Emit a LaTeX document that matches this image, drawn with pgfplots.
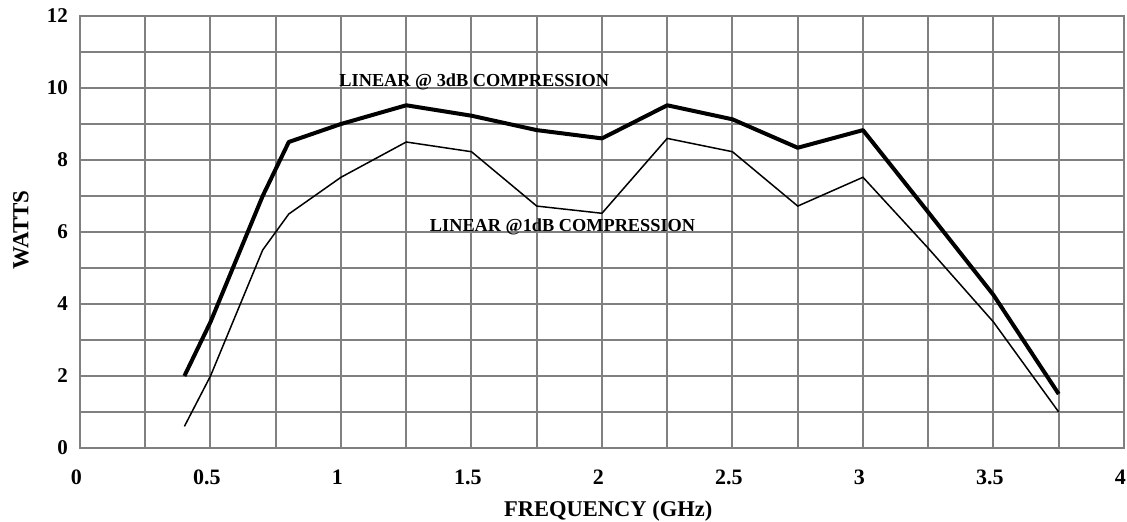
\documentclass[border=0pt]{standalone}
\usepackage{fontspec}
\setmainfont{Liberation Serif}
\usepackage{pgfplots}
\pgfplotsset{compat=1.18}
\begin{document}
\begin{tikzpicture}
\begin{axis}[
  scale only axis, width=1044pt, height=432pt,
  xmin=0, xmax=4, ymin=0, ymax=12,
  xtick={0,0.5,...,4}, minor xtick={0.25,0.75,...,3.75},
  ytick={0,2,...,12}, minor ytick={1,3,...,11},
  grid=both,
  major grid style={draw=gray, line width=2pt},
  minor grid style={draw=gray, line width=2pt},
  axis line style={draw=gray, line width=2pt},
  major tick length=0pt, minor tick length=0pt,
  /pgf/number format/assume math mode=true,
  xticklabel style={font=\bfseries\fontsize{22}{26}\selectfont, anchor=center, inner sep=0pt, yshift=-29pt, xshift=-3.5pt},
  yticklabel style={font=\bfseries\fontsize{21}{25}\selectfont, anchor=east, inner sep=0pt, xshift=-12pt},
  xlabel={FREQUENCY (GHz)},
  xlabel style={font=\bfseries\fontsize{22.5}{27}\selectfont, at={(axis description cs:0.506,-0.146)}, anchor=center, inner sep=0pt},
  ylabel={WATTS},
  ylabel style={font=\bfseries\fontsize{23}{27}\selectfont, at={(axis description cs:-0.0565,0.505)}, anchor=center, inner sep=0pt, rotate=0},
]
\addplot[black, line width=4pt, line join=round] coordinates {
(0.4,2.0)(0.5,3.5)(0.7,7.0)(0.8,8.5)(1.0,9.0)(1.25,9.52)(1.5,9.23)(1.75,8.83)(2.0,8.6)(2.25,9.52)(2.5,9.13)(2.75,8.34)(3.0,8.83)(3.25,6.55)(3.5,4.25)(3.75,1.5)
};
\addplot[black, line width=1.5pt] coordinates {
(0.4,0.6)(0.5,2.0)(0.7,5.5)(0.8,6.5)(1.0,7.52)(1.25,8.5)(1.5,8.23)(1.75,6.72)(2.0,6.52)(2.25,8.6)(2.5,8.23)(2.75,6.72)(3.0,7.52)(3.25,5.55)(3.5,3.5)(3.75,1.0)
};
\node[anchor=base, inner sep=0pt, font=\bfseries\fontsize{18.3}{22}\selectfont] at (axis cs:1.511,10.03) {LINEAR @ 3dB COMPRESSION};
\node[anchor=base, inner sep=0pt, font=\bfseries\fontsize{18.3}{22}\selectfont] at (axis cs:1.849,6.01) {LINEAR @1dB COMPRESSION};
\end{axis}
\pgfresetboundingbox
\path (-80pt,-74pt) rectangle (1047pt,448pt);
\end{tikzpicture}
\end{document}
